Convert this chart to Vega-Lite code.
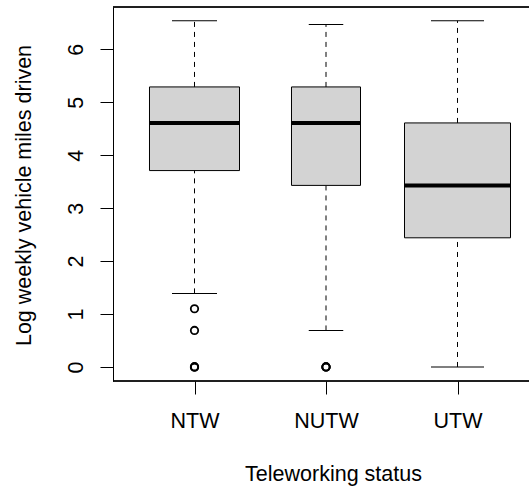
{
  "$schema": "https://vega.github.io/schema/vega-lite/v6.json",
  "width": 416,
  "height": 374,
  "autosize": {"type": "none"},
  "padding": {"left": 113, "top": 7, "right": 0, "bottom": 105},
  "config": {
    "view": {"stroke": null},
    "font": "Liberation Sans",
    "axis": {
      "labelFont": "Liberation Sans",
      "labelFontSize": 21.5,
      "labelColor": "black",
      "titleFont": "Liberation Sans",
      "titleFontSize": 21.5,
      "titleFontWeight": "normal",
      "titleColor": "black",
      "tickColor": "black",
      "tickSize": 13,
      "domainColor": "black",
      "grid": false
    },
    "axisX": {
      "domain": false,
      "labelAngle": 0,
      "labelBaseline": "alphabetic",
      "labelPadding": 33,
      "titleX": 220,
      "titleY": 99,
      "titleAlign": "center",
      "titleBaseline": "alphabetic"
    },
    "axisY": {
      "labelAngle": -90,
      "labelAlign": "center",
      "labelBaseline": "alphabetic",
      "labelPadding": 17.5,
      "titleAngle": -90,
      "titleX": -82.4,
      "titleY": 188,
      "titleAlign": "center",
      "titleBaseline": "alphabetic"
    }
  },
  "datasets": {
    "boxes": [
      {"status": "NTW", "n": 721, "lower": 1.39, "q1": 3.71, "median": 4.61, "q3": 5.29, "upper": 6.54},
      {"status": "NUTW", "n": 424, "lower": 0.69, "q1": 3.43, "median": 4.61, "q3": 5.29, "upper": 6.47},
      {"status": "UTW", "n": 1000, "lower": 0.0, "q1": 2.44, "median": 3.43, "q3": 4.61, "upper": 6.54}
    ],
    "outliers": [
      {"status": "NTW", "value": 1.10},
      {"status": "NTW", "value": 0.69},
      {"status": "NTW", "value": 0.0},
      {"status": "NTW", "value": 0.0},
      {"status": "NTW", "value": 0.0},
      {"status": "NUTW", "value": 0.0},
      {"status": "NUTW", "value": 0.0},
      {"status": "NUTW", "value": 0.0}
    ]
  },
  "layer": [
    {
      "data": {"name": "boxes"},
      "mark": {"type": "rule", "color": "black", "strokeWidth": 1, "strokeDash": [5, 5]},
      "encoding": {
        "x": {"field": "status", "type": "nominal", "sort": ["NTW", "NUTW", "UTW"], "scale": {"type": "point", "range": [81.5, 344.5], "padding": 0}, "title": "Teleworking status"},
        "y": {"field": "q3", "type": "quantitative", "scale": {"domain": [-0.265, 6.8], "nice": false, "zero": false}, "axis": {"values": [0, 1, 2, 3, 4, 5, 6], "format": "d"}, "title": "Log weekly vehicle miles driven"},
        "y2": {"field": "upper"}
      }
    },
    {
      "data": {"name": "boxes"},
      "mark": {"type": "rule", "color": "black", "strokeWidth": 1, "strokeDash": [5, 5]},
      "encoding": {
        "x": {"field": "status", "type": "nominal", "sort": ["NTW", "NUTW", "UTW"], "scale": {"type": "point", "range": [81.5, 344.5], "padding": 0}, "title": "Teleworking status"},
        "y": {"field": "lower", "type": "quantitative", "scale": {"domain": [-0.265, 6.8], "nice": false, "zero": false}, "axis": {"values": [0, 1, 2, 3, 4, 5, 6], "format": "d"}, "title": "Log weekly vehicle miles driven"},
        "y2": {"field": "q1"}
      }
    },
    {
      "data": {"name": "boxes"},
      "mark": {"type": "tick", "orient": "horizontal", "color": "black", "thickness": 1, "opacity": 1},
      "encoding": {
        "x": {"field": "status", "type": "nominal", "sort": ["NTW", "NUTW", "UTW"], "scale": {"type": "point", "range": [81.5, 344.5], "padding": 0}, "title": "Teleworking status"},
        "y": {"field": "upper", "type": "quantitative", "scale": {"domain": [-0.265, 6.8], "nice": false, "zero": false}, "axis": {"values": [0, 1, 2, 3, 4, 5, 6], "format": "d"}, "title": "Log weekly vehicle miles driven"},
        "size": {"field": "n", "type": "quantitative", "scale": {"type": "sqrt", "domain": [0, 1000], "range": [0, 53]}, "legend": null}
      }
    },
    {
      "data": {"name": "boxes"},
      "mark": {"type": "tick", "orient": "horizontal", "color": "black", "thickness": 1, "opacity": 1},
      "encoding": {
        "x": {"field": "status", "type": "nominal", "sort": ["NTW", "NUTW", "UTW"], "scale": {"type": "point", "range": [81.5, 344.5], "padding": 0}, "title": "Teleworking status"},
        "y": {"field": "lower", "type": "quantitative", "scale": {"domain": [-0.265, 6.8], "nice": false, "zero": false}, "axis": {"values": [0, 1, 2, 3, 4, 5, 6], "format": "d"}, "title": "Log weekly vehicle miles driven"},
        "size": {"field": "n", "type": "quantitative", "scale": {"type": "sqrt", "domain": [0, 1000], "range": [0, 53]}, "legend": null}
      }
    },
    {
      "data": {"name": "boxes"},
      "mark": {"type": "bar", "fill": "#D3D3D3", "stroke": "black", "strokeWidth": 1, "opacity": 1},
      "encoding": {
        "x": {"field": "status", "type": "nominal", "sort": ["NTW", "NUTW", "UTW"], "scale": {"type": "point", "range": [81.5, 344.5], "padding": 0}, "title": "Teleworking status"},
        "y": {"field": "q1", "type": "quantitative", "scale": {"domain": [-0.265, 6.8], "nice": false, "zero": false}, "axis": {"values": [0, 1, 2, 3, 4, 5, 6], "format": "d"}, "title": "Log weekly vehicle miles driven"},
        "y2": {"field": "q3"},
        "size": {"field": "n", "type": "quantitative", "scale": {"type": "sqrt", "domain": [0, 1000], "range": [0, 106]}, "legend": null}
      }
    },
    {
      "data": {"name": "boxes"},
      "mark": {"type": "tick", "orient": "horizontal", "color": "black", "thickness": 4, "opacity": 1},
      "encoding": {
        "x": {"field": "status", "type": "nominal", "sort": ["NTW", "NUTW", "UTW"], "scale": {"type": "point", "range": [81.5, 344.5], "padding": 0}, "title": "Teleworking status"},
        "y": {"field": "median", "type": "quantitative", "scale": {"domain": [-0.265, 6.8], "nice": false, "zero": false}, "axis": {"values": [0, 1, 2, 3, 4, 5, 6], "format": "d"}, "title": "Log weekly vehicle miles driven"},
        "size": {"field": "n", "type": "quantitative", "scale": {"type": "sqrt", "domain": [0, 1000], "range": [0, 106]}, "legend": null}
      }
    },
    {
      "data": {"name": "outliers"},
      "mark": {"type": "point", "shape": "circle", "filled": false, "color": "black", "size": 55, "strokeWidth": 1.8, "opacity": 1},
      "encoding": {
        "x": {"field": "status", "type": "nominal", "sort": ["NTW", "NUTW", "UTW"], "scale": {"type": "point", "range": [81.5, 344.5], "padding": 0}, "title": "Teleworking status"},
        "y": {"field": "value", "type": "quantitative", "scale": {"domain": [-0.265, 6.8], "nice": false, "zero": false}, "axis": {"values": [0, 1, 2, 3, 4, 5, 6], "format": "d"}, "title": "Log weekly vehicle miles driven"}
      }
    },
    {
      "data": {"name": "boxes"},
      "mark": {"type": "rule", "color": "black", "strokeWidth": 1},
      "encoding": {
        "y": {"datum": 6.8, "type": "quantitative", "scale": {"domain": [-0.265, 6.8], "nice": false, "zero": false}, "title": "Log weekly vehicle miles driven"}
      }
    },
    {
      "data": {"name": "boxes"},
      "mark": {"type": "rule", "color": "black", "strokeWidth": 1},
      "encoding": {
        "y": {"datum": -0.265, "type": "quantitative", "scale": {"domain": [-0.265, 6.8], "nice": false, "zero": false}, "title": "Log weekly vehicle miles driven"}
      }
    }
  ],
  "resolve": {"scale": {"size": "independent"}}
}
